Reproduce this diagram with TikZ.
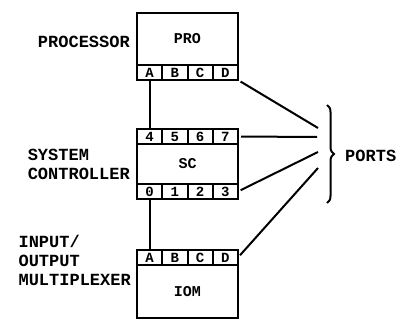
\documentclass[tikz,border=0pt]{standalone}
\usepackage{fontspec}
\setmonofont{Liberation Mono}
\usetikzlibrary{positioning, decorations.pathreplacing}

\begin{document}
\begin{tikzpicture}[x=1pt, y=-1pt,
  unit/.style={draw, line width=2.2pt, minimum width=101pt, inner sep=0pt, outer sep=0pt,
               font=\ttfamily\bfseries\fontsize{15}{15}\selectfont},
  port/.style={draw, line width=2pt, minimum width=25.25pt, minimum height=15pt,
               inner sep=0pt, outer sep=0pt, anchor=north west,
               font=\ttfamily\bfseries\fontsize{14}{14}\selectfont},
  lbl/.style={align=left, inner sep=0pt, font=\ttfamily\bfseries\fontsize{17}{19}\selectfont},
  wire/.style={line width=2pt}]
\useasboundingbox (0,0) rectangle (399,321);
% units
\node[unit, minimum height=52pt] (pro) at (187.5,39) {PRO};
\foreach \p [count=\i] in {A,B,C,D}
  \node[port, xshift={(\i-1)*25.25pt}] (pro-\p) at (pro.south west) {\p};
\node[unit, minimum height=40pt] (sc) at (187.5,164) {SC};
\foreach \p [count=\i] in {4,5,6,7}
  \node[port, anchor=south west, xshift={(\i-1)*25.25pt}] (sc-\p) at (sc.north west) {\p};
\foreach \p [count=\i] in {0,1,2,3}
  \node[port, xshift={(\i-1)*25.25pt}] (sc-\p) at (sc.south west) {\p};
\node[unit, minimum height=53pt] (iom) at (187.5,291.5) {IOM};
\foreach \p [count=\i] in {A,B,C,D}
  \node[port, anchor=south west, xshift={(\i-1)*25.25pt}] (iom-\p) at (iom.north west) {\p};
% labels
\node[lbl, anchor=east] (lpro) at (130,42) {PROCESSOR};
\node[lbl, left=7pt of sc] (lsc) {SYSTEM\\CONTROLLER};
\node[lbl, anchor=east] (liom) at (131,260) {INPUT/\\OUTPUT\\MULTIPLEXER};
% buses
\draw[wire] (pro-A.south) -- (sc-4.north);
\draw[wire] (sc-0.south) -- (iom-A.north);
% ports
\coordinate (p1) at (318,128);
\coordinate (p2) at (317,137);
\coordinate (p3) at (318,152);
\coordinate (p4) at (318,168);
\draw[wire, shorten <=3pt] (pro-D.south east) -- (p1);
\draw[wire, shorten <=3pt] (sc-7.east) -- (p2);
\draw[wire, shorten <=3pt] (sc-3.east) -- (p3);
\draw[wire, shorten <=3pt] (iom-D.east) -- (p4);
\coordinate (bt) at (327,105);
\coordinate (bb) at (327,203);
\draw[wire, decorate, decoration={brace, amplitude=7pt}] (bt) -- (bb);
\node[lbl, anchor=west] (ports) at (345,156) {PORTS};
\end{tikzpicture}
\end{document}
